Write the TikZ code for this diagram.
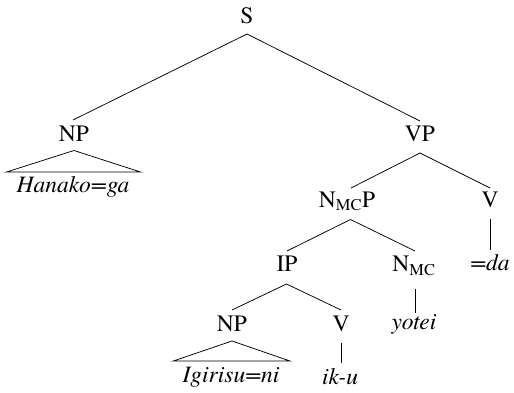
\documentclass[tikz,border=0pt]{standalone}
\usepackage{fontspec}
\setmainfont{texgyretermes}[Extension=.otf,UprightFont=*-regular,ItalicFont=*-italic,BoldFont=*-bold,BoldItalicFont=*-bolditalic]
\usetikzlibrary{calc}
\begin{document}
\begin{tikzpicture}[x=1pt,y=-1pt,
  cat/.style={anchor=base,inner sep=0pt,font=\fontsize{23.5}{27}\selectfont},
  word/.style={anchor=base,inner sep=0pt,font=\fontsize{23.5}{27}\selectfont\itshape},
  edge/.style={line width=0.75pt}]
\useasboundingbox (0,0) rectangle (514,393);
% categories
\node[cat] (S) at (247,23.5) {S};
\node[cat] (NPa) at (74,141.5) {NP};
\node[cat] (VP) at (420,141.5) {VP};
\node[cat] (NMCP) at (347,207) {N\textsubscript{MC}P};
\node[cat] (Va) at (490,207) {V};
\node[cat] (IP) at (287,271.5) {IP};
\node[cat] (NMC) at (414,271.5) {N\textsubscript{MC}};
\node[cat] (NPb) at (232,331.5) {NP};
\node[cat] (Vb) at (341,331.5) {V};
% words
\node[word] (hanako) at (73,192) {Hanako=ga};
\node[word] (da) at (490,270) {=da};
\node[word] (yotei) at (414,329) {yotei};
\node[word] (igirisu) at (231,382) {Igirisu=ni};
\node[word] (iku) at (340,384) {ik-u};
% branches
\draw[edge] ($(S.base)+(0,10.5)$) -- ($(NPa.base)+(-1,-21.5)$);
\draw[edge] ($(S.base)+(0,10.5)$) -- ($(VP.base)+(0,-20.5)$);
\draw[edge] ($(VP.base)+(0,11.5)$) -- ($(NMCP.base)+(4,-19)$);
\draw[edge] ($(VP.base)+(0,11.5)$) -- ($(Va.base)+(0,-19)$);
\draw[edge] ($(NMCP.base)+(3.5,12.5)$) -- ($(IP.base)+(0,-20.5)$);
\draw[edge] ($(NMCP.base)+(3.5,12.5)$) -- ($(NMC.base)+(1,-20.5)$);
\draw[edge] ($(IP.base)+(-0.5,12.5)$) -- ($(NPb.base)+(0,-21.5)$);
\draw[edge] ($(IP.base)+(-0.5,12.5)$) -- ($(Vb.base)+(0,-21.5)$);
% unary
\draw[edge] ($(Va.base)+(0,12)$) -- ($(da.base)+(0,-20)$);
\draw[edge] ($(NMC.base)+(1,17)$) -- ($(yotei.base)+(1,-16)$);
\draw[edge] ($(Vb.base)+(0,11.5)$) -- ($(iku.base)+(1,-21)$);
% triangles
\draw[edge] ($(hanako.base)+(-66.5,-20)$) -- ($(NPa.base)+(0,9)$) -- ($(hanako.base)+(67.5,-20)$) -- cycle;
\draw[edge] ($(igirisu.base)+(-57.7,-21)$) -- ($(NPb.base)+(0,9.5)$) -- ($(igirisu.base)+(59,-21)$) -- cycle;
\end{tikzpicture}
\end{document}
